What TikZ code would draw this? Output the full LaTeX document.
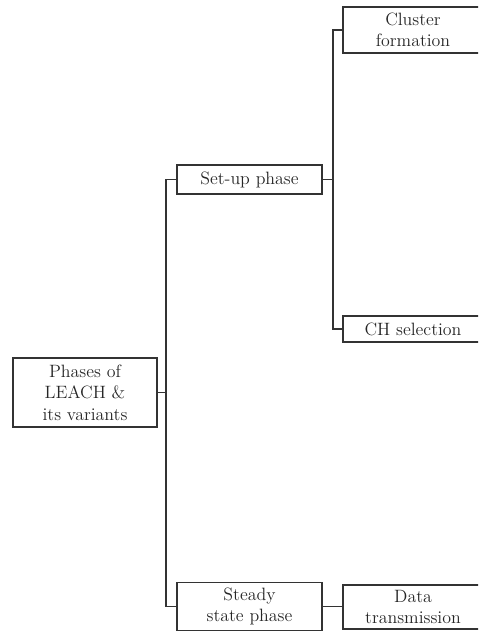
\documentclass[tikz,border=0pt]{standalone}
\usepackage{tikz}
\usetikzlibrary{positioning,calc}

\begin{document}
\begin{tikzpicture}[x=0.75pt,y=-0.75pt,
  phasebox/.style={draw=black!80, line width=0.9pt, rectangle, inner sep=0pt, align=center,
    text=black!85, font=\fontsize{13.4}{16.2}\selectfont},
  link/.style={draw=black!80, line width=1pt}]
\useasboundingbox (0,0) rectangle (478,631);
\clip (0,0) rectangle (478,631);
\node[phasebox, minimum width=108pt, minimum height=51.75pt] (leach) at (85,392.5) {Phases of\\LEACH \&\\its variants};
\node[phasebox, minimum width=108.75pt, minimum height=21.75pt] (setup) at (249.5,179.5) {Set-up phase};
\node[phasebox, minimum width=108.75pt, minimum height=36pt] (steady) at (249.5,606.5) {Steady\\state phase};
\node[phasebox, minimum width=105pt, minimum height=34.5pt] (cluster) at (413,30) {Cluster\\formation};
\node[phasebox, minimum width=105pt, minimum height=19.5pt] (chsel) at (413,329) {CH selection};
\node[phasebox, minimum width=105pt, minimum height=33pt] (data) at (413,607) {Data\\transmission};

\coordinate (trunk) at (166,0);
\coordinate (branch) at (333,0);

\draw[link] (leach.east) -- (leach.east -| trunk);
\draw[link] (setup.west) -- (setup.west -| trunk) |- (steady.west);
\draw[link] (setup.east) -- (setup.east -| branch);
\draw[link] (cluster.west) -- (cluster.west -| branch) |- (chsel.west);
\draw[link] (steady.east) -- (steady.east -| data.west);
\end{tikzpicture}
\end{document}
